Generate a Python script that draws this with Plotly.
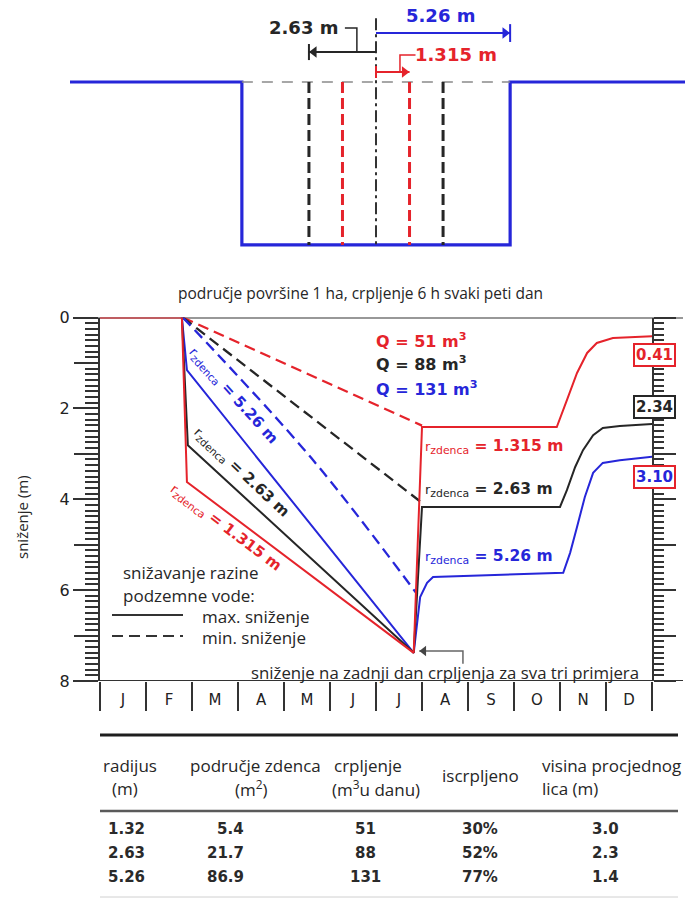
import plotly.graph_objects as go

W, H = 685, 900
RED = "#e5232b"
BLUE = "#2626d9"
BLK = "#262626"
AX = "#333333"
BOLD = "DejaVu Sans"
SANS = "Open Sans"

# ---------------- chart data ----------------
months = ["J", "F", "M", "A", "M", "J", "J", "A", "S", "O", "N", "D"]
y_label_vals = [0, 2, 4, 6, 8]
y_label_text = ["0", "2", "4", "6", "8"]
y_odd_vals = [1, 3, 5, 7]
y_all_vals = [0, 1, 2, 3, 4, 5, 6, 7, 8]

# max. drawdown (solid) : x = months since 1 January, y = drawdown (m)
red_max_x = [0.0, 1.78, 1.89, 6.82, 7.0, 9.93, 10.15, 10.37, 10.59, 10.80, 11.15, 12.11]
red_max_y = [0.0, 0.0, 3.62, 7.38, 2.41, 2.41, 1.82, 1.22, 0.78, 0.56, 0.45, 0.41]
black_max_x = [1.78, 1.91, 6.82, 7.0, 10.0, 10.15, 10.33, 10.5, 10.72, 10.93, 11.3, 12.07]
black_max_y = [0.0, 2.81, 7.38, 4.17, 4.17, 3.80, 3.29, 2.92, 2.59, 2.43, 2.39, 2.34]
blue_max_x = [1.78, 1.89, 6.82, 6.96, 7.11, 7.24, 10.07, 10.22, 10.37, 10.54, 10.72, 10.93, 11.3, 12.13]
blue_max_y = [0.0, 1.16, 7.38, 6.15, 5.84, 5.71, 5.62, 5.18, 4.61, 3.95, 3.42, 3.20, 3.14, 3.05]

# min. drawdown (dashed)
red_min_x = [1.8, 7.0]
red_min_y = [0.0, 2.38]
black_min_x = [1.8, 7.0]
black_min_y = [0.0, 4.08]
blue_min_x = [1.8, 4.6, 6.9]
blue_min_y = [0.0, 3.1, 6.1]

last_day_x = 6.82
last_day_y = 7.38

end_labels = ["0.41", "2.34", "3.10"]
pump_q = [51, 88, 131]
radii = [1.315, 2.63, 5.26]
radii_txt = ["1.315", "2.63", "5.26"]

# ---------------- table data ----------------
tab_radius = ["1.32", "2.63", "5.26"]
tab_area = ["5.4", "21.7", "86.9"]
tab_pump = ["51", "88", "131"]
tab_exh = ["30%", "52%", "77%"]
tab_height = ["3.0", "2.3", "1.4"]

# ---------------- schematic geometry (m) ----------------
trench_half = 5.26
trench_depth = 6.39
ground_left, ground_right = -12.0, 12.2

fig = go.Figure()


def px(p):
    return p / W


def py(p):
    return 1 - p / H


def S(**k):
    base = dict(mode="lines", hoverinfo="skip", showlegend=False)
    base.update(k)
    fig.add_trace(go.Scatter(**base))


# ---- schematic traces ----
S(x=[ground_left, -trench_half, -trench_half, trench_half, trench_half, ground_right],
  y=[0, 0, -trench_depth, -trench_depth, 0, 0], line=dict(color=BLUE, width=3.2), xaxis="x2", yaxis="y2")
S(x=[-trench_half, trench_half], y=[0, 0], line=dict(color="#8a8a8a", width=1.5, dash="11px,9px"),
  xaxis="x2", yaxis="y2")
for r, c in [(radii[1], BLK), (radii[0], RED)]:
    for s in (-1, 1):
        S(x=[s * r, s * r], y=[0, -trench_depth], line=dict(color=c, width=3, dash="11px,5px"),
          xaxis="x2", yaxis="y2")
S(x=[0, 0], y=[2.5, -trench_depth], line=dict(color=AX, width=2, dash="12px,4px,3px,4px"),
  xaxis="x2", yaxis="y2")
# radius arrows
for r_end, yy, c, sym in [(radii[2], 1.92, BLUE, "triangle-right"), (-radii[1], 1.18, BLK, "triangle-left"),
                          (radii[0], 0.39, RED, "triangle-right")]:
    S(x=[0, r_end], y=[yy, yy], line=dict(color=c, width=2), xaxis="x2", yaxis="y2")
    back = -0.2 if r_end > 0 else 0.2
    S(x=[r_end + back], y=[yy], mode="markers", marker=dict(symbol=sym, size=10, color=c),
      xaxis="x2", yaxis="y2")
# end ticks
S(x=[radii[2], radii[2]], y=[1.57, 2.27], line=dict(color=BLUE, width=2), xaxis="x2", yaxis="y2")
S(x=[-radii[1], -radii[1]], y=[0.86, 1.49], line=dict(color=BLK, width=2), xaxis="x2", yaxis="y2")
S(x=[0, 0], y=[0.16, 0.63], line=dict(color=RED, width=2), xaxis="x2", yaxis="y2")
# leaders
S(x=[-1.22, -0.75, -0.75], y=[2.12, 2.12, 1.18], line=dict(color=BLK, width=1.5), xaxis="x2", yaxis="y2")
S(x=[1.55, 0.94, 0.94], y=[1.06, 1.06, 0.39], line=dict(color=RED, width=1.5), xaxis="x2", yaxis="y2")

# ---- main chart traces ----
dash = "11px,6px"
for xs, ys, c in [(red_min_x, red_min_y, RED), (black_min_x, black_min_y, BLK)]:
    S(x=xs, y=ys, line=dict(color=c, width=2.3, dash=dash), cliponaxis=False)
S(x=blue_min_x, y=blue_min_y, line=dict(color=BLUE, width=2.3, dash=dash, shape="spline", smoothing=1),
  cliponaxis=False)
for xs, ys, c in [(blue_max_x, blue_max_y, BLUE), (black_max_x, black_max_y, BLK), (red_max_x, red_max_y, RED)]:
    S(x=xs, y=ys, line=dict(color=c, width=2), cliponaxis=False)
# 'last day' arrow
S(x=[7.89, 7.89, last_day_x + 0.12], y=[7.62, 7.34, 7.34], line=dict(color="#666", width=1.5), cliponaxis=False)
S(x=[last_day_x + 0.22], y=[7.34], mode="markers", marker=dict(symbol="triangle-left", size=9, color="#444"),
  cliponaxis=False)
# invisible anchors for the extra tick axes
S(x=[0], y=[0], mode="markers", marker=dict(opacity=0), yaxis="y4")
S(x=[0], y=[0], mode="markers", marker=dict(opacity=0), yaxis="y5")

ydom = [py(681), py(317.5)]
xdom = [px(100), px(652)]

fig.update_layout(
    width=W, height=H, margin=dict(l=0, r=0, t=0, b=0, pad=0, autoexpand=False),
    paper_bgcolor="white", plot_bgcolor="rgba(0,0,0,0)", showlegend=False,
    xaxis=dict(domain=xdom, range=[0, 12], anchor="y", tickmode="array", automargin=False,
               tickvals=[i + 0.5 for i in range(12)], ticktext=months, ticks="",
               ticklabelstandoff=8, tickfont=dict(family=BOLD, size=15, color="#222"),
               minor=dict(tickmode="array", tickvals=list(range(13)), ticks="outside",
                          ticklen=29, tickwidth=2, tickcolor=AX),
               showgrid=False, zeroline=False, showline=False, fixedrange=True),
    yaxis=dict(domain=ydom, range=[8, 0], anchor="x", tickmode="array", automargin=False,
               tickvals=y_label_vals, ticktext=y_label_text, ticks="outside", ticklen=25,
               tickwidth=2, tickcolor=AX, tickfont=dict(family=BOLD, size=16, color="#222"),
               minor=dict(tick0=0, dtick=0.125, ticks="outside", ticklen=13, tickwidth=1.5, tickcolor=AX),
               showline=True, linewidth=2, linecolor=AX, showgrid=False, zeroline=False, fixedrange=True),
    yaxis5=dict(overlaying="y", side="left", anchor="x", range=[8, 0], tickmode="array", automargin=False,
                tickvals=y_odd_vals, showticklabels=False, ticks="outside", ticklen=25, tickwidth=2,
                tickcolor=AX, showline=False, showgrid=False, zeroline=False, fixedrange=True),
    yaxis4=dict(overlaying="y", side="right", anchor="x", range=[8, 0], tickmode="array", automargin=False,
                tickvals=y_all_vals, showticklabels=False, ticks="outside", ticklen=22,
                tickwidth=2, tickcolor=AX,
                minor=dict(tick0=0, dtick=0.125, ticks="outside", ticklen=10, tickwidth=1.5, tickcolor=AX),
                showline=True, linewidth=2, linecolor=AX, showgrid=False, zeroline=False, fixedrange=True),
    xaxis2=dict(domain=[0, 1], range=[-376 / 25.5, (W - 376) / 25.5], visible=False, anchor="y2",
                fixedrange=True, automargin=False),
    yaxis2=dict(domain=[py(260), 1], range=[-178 / 25.5, 82 / 25.5], visible=False, anchor="x2",
                fixedrange=True, automargin=False),
)

shapes = []
for yv in (0, 8):
    shapes.append(dict(type="line", xref="paper", yref="y", x0=px(75), x1=px(683), y0=yv, y1=yv,
                       line=dict(color=AX, width=2), layer="below"))
shapes.append(dict(type="line", xref="paper", yref="paper", x0=px(112), x1=px(183), y0=py(615), y1=py(615),
                   line=dict(color=AX, width=1.8)))
shapes.append(dict(type="line", xref="paper", yref="paper", x0=px(112), x1=px(183), y0=py(636), y1=py(636),
                   line=dict(color=AX, width=1.8, dash="11px,6px")))
shapes.append(dict(type="line", xref="paper", yref="paper", x0=px(100), x1=px(678), y0=py(735), y1=py(735),
                   line=dict(color="#1e1e1e", width=3)))
shapes.append(dict(type="line", xref="paper", yref="paper", x0=px(100), x1=px(678), y0=py(811), y1=py(811),
                   line=dict(color="#5a5a5a", width=2.5)))
shapes.append(dict(type="line", xref="paper", yref="paper", x0=px(100), x1=px(678), y0=py(897), y1=py(897),
                   line=dict(color="#d0d0d0", width=1)))
fig.update_layout(shapes=shapes)

ann = []


def A(**k):
    base = dict(showarrow=False)
    base.update(k)
    ann.append(base)


def ptxt(text, x, y, size=17, color=BLK, family=SANS, xanchor="center", **k):
    A(text=text, xref="paper", yref="paper", x=px(x), y=py(y), xanchor=xanchor, yanchor="middle",
      font=dict(family=family, size=size, color=color), **k)


# schematic labels
A(text="<b>5.26 m</b>", xref="x2", yref="y2", x=2.51, y=2.6, font=dict(family=BOLD, size=18, color=BLUE))
A(text="<b>2.63 m</b>", xref="x2", yref="y2", x=-2.85, y=2.14, font=dict(family=BOLD, size=18, color=BLK))
A(text="<b>1.315 m</b>", xref="x2", yref="y2", x=3.15, y=1.06, font=dict(family=BOLD, size=18, color=RED))

# title and axis title
ptxt("područje površine 1 ha, crpljenje 6 h svaki peti dan", 360, 293, size=15.5)
ptxt("sniženje (m)", 22, 517, size=15, textangle=-90)

# Q labels
for q, c, yy in zip(pump_q, [RED, BLK, BLUE], [340, 363, 388]):
    ptxt(f"<b>Q = {q} m<sup>3</sup></b>", 374, yy, size=16, family=BOLD, color=c, xanchor="left")

# end value boxes (right axis)
for t, yy, tc, bc in zip(end_labels, [355, 407, 477], [RED, BLK, BLUE], [RED, BLK, RED]):
    ptxt(f"<b>{t}</b>", 654, yy, size=15, family=BOLD, color=tc, bgcolor="white", bordercolor=bc,
         borderwidth=2, borderpad=1)

rlabel = "<span style='font-size:13px'>r</span><sub>zdenca</sub><b> = {} m</b>"
# horizontal radius labels (recovery part)
for rt, c, yy in zip(radii_txt, [RED, BLK, BLUE], [447, 490, 557]):
    ptxt(rlabel.format(rt), 423, yy, size=15.5, family=BOLD, color=c, xanchor="left")

# rotated radius labels (drawdown part)
for rt, c, xx, yy, ang in [(radii_txt[2], BLUE, 233, 396, 48), (radii_txt[1], BLK, 242, 472, 43),
                           (radii_txt[0], RED, 226, 527, 37)]:
    ptxt(rlabel.format(rt), xx, yy, size=15, family=BOLD, color=c, textangle=ang)

# legend text
ptxt("snižavanje razine", 121, 572, xanchor="left")
ptxt("podzemne vode:", 121, 595, xanchor="left")
ptxt("max. sniženje", 200, 616, xanchor="left")
ptxt("min. sniženje", 200, 637, xanchor="left")

# last-day note
ptxt("sniženje na zadnji dan crpljenja za sva tri primjera", 641, 672, size=16.8, xanchor="right")

# table header
ptxt("radijus", 130, 765)
ptxt("(m)", 125, 788)
ptxt("područje zdenca", 255, 765)
ptxt("(m<sup>2</sup>)", 251, 788)
ptxt("crpljenje", 332, 765, xanchor="left")
ptxt("(m<sup>3</sup>u danu)", 330, 788, xanchor="left")
ptxt("iscrpljeno", 480, 775)
ptxt("visina procjednog", 540, 765, xanchor="left")
ptxt("lica (m)", 540, 788, xanchor="left")

# table body
row_y = [829, 853, 877]
for i in range(3):
    ptxt(f"<b>{tab_radius[i]}</b>", 106, row_y[i], size=15, family=BOLD, color="#2a2a2a", xanchor="left")
    ptxt(f"<b>{tab_area[i]}</b>", 246, row_y[i], size=15, family=BOLD, color="#2a2a2a", xanchor="right")
    ptxt(f"<b>{tab_pump[i]}</b>", 366, row_y[i], size=15, family=BOLD, color="#2a2a2a")
    ptxt(f"<b>{tab_exh[i]}</b>", 480, row_y[i], size=15, family=BOLD, color="#2a2a2a")
    ptxt(f"<b>{tab_height[i]}</b>", 605, row_y[i], size=15, family=BOLD, color="#2a2a2a")

fig.update_layout(annotations=ann)
fig.write_html("out.html", config={"displayModeBar": False},
               post_script="document.body.style.margin='0px';")
